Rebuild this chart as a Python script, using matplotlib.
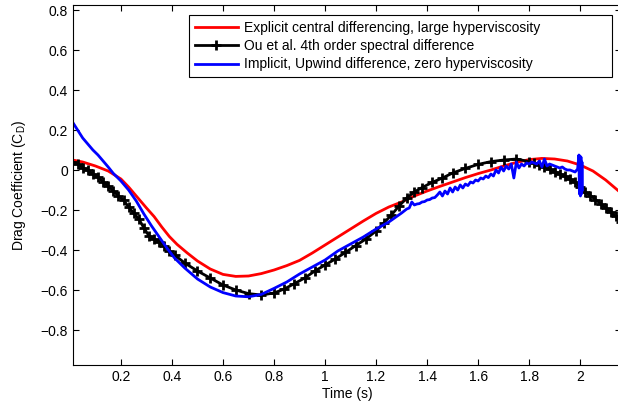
import numpy as np
import matplotlib.pyplot as plt

plt.rcParams["font.family"] = ["Liberation Sans", "DejaVu Sans"]
plt.rcParams["mathtext.default"] = "regular"

# explicit central differencing (red)
t_red = [0.01, 0.05, 0.10, 0.15, 0.20, 0.23, 0.25, 0.30, 0.33, 0.36, 0.39,
         0.42, 0.46, 0.50, 0.55, 0.60, 0.65, 0.70, 0.75, 0.80, 0.85, 0.90,
         0.95, 1.00, 1.05, 1.10, 1.15, 1.20, 1.25, 1.30, 1.35, 1.40, 1.45,
         1.50, 1.55, 1.60, 1.65, 1.70, 1.75, 1.80, 1.85, 1.90, 1.95, 2.00,
         2.05, 2.10, 2.16]
cd_red = [0.050, 0.040, 0.020, -0.005, -0.045, -0.085, -0.115, -0.190, -0.233,
          -0.285, -0.333, -0.372, -0.415, -0.455, -0.495, -0.522, -0.532,
          -0.530, -0.518, -0.500, -0.478, -0.452, -0.415, -0.375, -0.335,
          -0.295, -0.255, -0.217, -0.185, -0.160, -0.130, -0.105, -0.082,
          -0.060, -0.038, -0.018, 0.000, 0.020, 0.038, 0.052, 0.058, 0.055,
          0.045, 0.025, -0.005, -0.050, -0.115]

# Ou et al. spectral difference (black, + markers)
t_ou = [0.01, 0.03, 0.05, 0.07, 0.09, 0.11, 0.13, 0.15, 0.17, 0.19, 0.21,
        0.23, 0.25, 0.27, 0.29, 0.31, 0.33, 0.35, 0.37, 0.39, 0.41, 0.45,
        0.50, 0.55, 0.60, 0.65, 0.70, 0.75, 0.80, 0.84, 0.88, 0.92, 0.96,
        1.00, 1.04, 1.08, 1.12, 1.16, 1.20, 1.23, 1.26, 1.29, 1.32, 1.35,
        1.38, 1.42, 1.46, 1.50, 1.55, 1.60, 1.65, 1.70, 1.75, 1.80, 1.82,
        1.84, 1.86, 1.88, 1.90, 1.92, 1.94, 1.96, 1.98, 2.00, 2.02, 2.04,
        2.06, 2.08, 2.10, 2.12, 2.14, 2.16]
cd_ou = [0.040, 0.030, 0.012, -0.002, -0.020, -0.035, -0.060, -0.080, -0.105,
         -0.130, -0.150, -0.185, -0.215, -0.245, -0.290, -0.330, -0.345,
         -0.360, -0.380, -0.405, -0.425, -0.465, -0.505, -0.540, -0.575,
         -0.600, -0.618, -0.625, -0.615, -0.595, -0.568, -0.540, -0.505,
         -0.475, -0.445, -0.412, -0.378, -0.345, -0.305, -0.265, -0.225,
         -0.180, -0.140, -0.110, -0.088, -0.062, -0.040, -0.015, 0.008,
         0.028, 0.042, 0.050, 0.055, 0.042, 0.035, 0.025, 0.015, 0.003,
         -0.008, -0.020, -0.032, -0.045, -0.062, -0.085, -0.110, -0.128,
         -0.148, -0.168, -0.190, -0.210, -0.232, -0.262]

# implicit upwind difference (blue)
t_imp = [0.01, 0.03, 0.05, 0.07, 0.09, 0.11, 0.13, 0.15, 0.17, 0.20, 0.23,
         0.26, 0.29, 0.32, 0.35, 0.38, 0.41, 0.45, 0.50, 0.55, 0.60, 0.65,
         0.70, 0.75, 0.80, 0.85, 0.90, 0.95, 1.00, 1.05, 1.10, 1.15, 1.20,
         1.25, 1.30, 1.31, 1.32, 1.33, 1.34, 1.35, 1.36, 1.37, 1.38, 1.39,
         1.40, 1.41, 1.42, 1.43, 1.44, 1.45, 1.46, 1.47, 1.48, 1.49, 1.50,
         1.51, 1.52, 1.53, 1.54, 1.55, 1.56, 1.57, 1.58, 1.59, 1.60, 1.61,
         1.62, 1.63, 1.64, 1.65, 1.66, 1.67, 1.68, 1.69, 1.70, 1.71, 1.72,
         1.73, 1.74, 1.75, 1.76, 1.77, 1.78, 1.79, 1.80, 1.81, 1.82, 1.83,
         1.84, 1.85, 1.86, 1.87, 1.88, 1.89, 1.90, 1.91, 1.92, 1.93, 1.94,
         1.95, 1.96, 1.97, 1.98, 1.99, 1.995, 1.997, 1.999, 2.001, 2.003,
         2.005, 2.007, 2.009]
cd_imp = [0.240, 0.200, 0.160, 0.130, 0.100, 0.075, 0.045, 0.015, -0.017,
          -0.055, -0.100, -0.155, -0.220, -0.280, -0.335, -0.390, -0.440,
          -0.490, -0.545, -0.585, -0.613, -0.630, -0.634, -0.622, -0.592,
          -0.560, -0.520, -0.485, -0.450, -0.405, -0.370, -0.335, -0.295,
          -0.260, -0.215, -0.205, -0.195, -0.190, -0.160, -0.175, -0.170,
          -0.168, -0.160, -0.158, -0.150, -0.148, -0.140, -0.138, -0.125,
          -0.110, -0.130, -0.105, -0.120, -0.090, -0.110, -0.085, -0.100,
          -0.075, -0.090, -0.070, -0.078, -0.060, -0.065, -0.050, -0.055,
          -0.040, -0.045, -0.030, -0.038, -0.020, -0.030, 0.000, -0.015,
          0.015, -0.005, 0.020, 0.005, 0.030, -0.040, 0.040, 0.010, 0.030,
          0.020, 0.035, 0.030, 0.040, 0.035, 0.030, 0.045, 0.015, 0.055,
          0.020, 0.030, 0.025, 0.020, 0.015, 0.010, 0.015, 0.005, 0.000,
          0.000, -0.005, -0.010, 0.005, 0.075, -0.120, 0.070, -0.130, 0.065,
          -0.120, 0.040, -0.100]

fig = plt.figure(figsize=(6.18, 4.09), dpi=100)
ax = fig.add_axes([73 / 618, 44 / 409, 548 / 618, 360 / 409])

ax.plot(t_red, cd_red, color="r", lw=2,
        label="Explicit central differencing, large hyperviscosity")
ax.plot(t_ou, cd_ou, color="k", lw=2, marker="+", ms=7, mew=2,
        label="Ou et al. 4th order spectral difference")
ax.plot(t_imp, cd_imp, color="b", lw=2,
        label="Implicit, Upwind difference, zero hyperviscosity")

ax.set_xlim(0.012, 2.16)
ax.set_ylim(-0.975, 0.825)
ax.set_xticks([0.2, 0.4, 0.6, 0.8, 1, 1.2, 1.4, 1.6, 1.8, 2])
ax.set_xticklabels(["0.2", "0.4", "0.6", "0.8", "1", "1.2", "1.4", "1.6", "1.8", "2"])
ax.set_yticks([-0.8, -0.6, -0.4, -0.2, 0, 0.2, 0.4, 0.6, 0.8])
ax.set_yticklabels(["\u22120.8", "\u22120.6", "\u22120.4", "\u22120.2", "0",
                    "0.2", "0.4", "0.6", "0.8"])
ax.tick_params(direction="in", length=4, top=True, right=True, labelsize=10)
ax.set_xlabel("Time (s)", fontsize=10, labelpad=2)
ax.set_ylabel("Drag Coefficient (C$_D$)", fontsize=10, labelpad=9)

leg = ax.legend(loc="upper left",
                bbox_to_anchor=(189 / 618, 1 - 76 / 409, 423 / 618, 61 / 409),
                bbox_transform=fig.transFigure, mode="expand", borderaxespad=0,
                fancybox=False, edgecolor="k", framealpha=1, fontsize=10,
                handlelength=3.1, handletextpad=0.43, labelspacing=0.32,
                borderpad=0.4)
leg.get_frame().set_linewidth(0.8)

fig.savefig("out.png", dpi=100)
